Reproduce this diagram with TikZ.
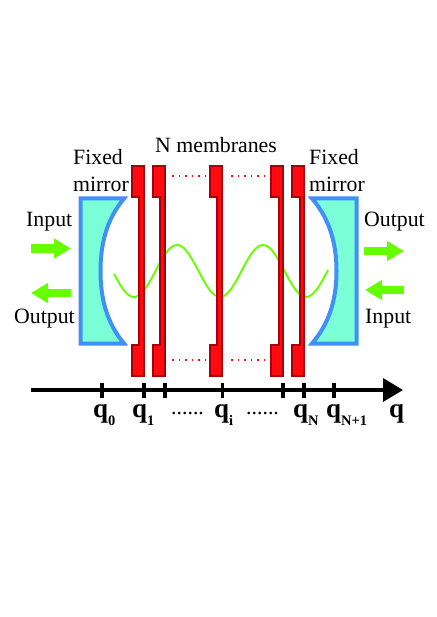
\documentclass[tikz,border=0pt]{standalone}
\usepackage{fontspec}
\setmainfont{Liberation Serif}
\usetikzlibrary{arrows.meta}
\definecolor{mirrorfill}{HTML}{7BFFD6}
\definecolor{mirrorline}{HTML}{4090F8}
\definecolor{memfill}{HTML}{FF0A10}
\definecolor{memline}{HTML}{A80008}
\definecolor{beam}{HTML}{66FF00}
\newcommand{\qlab}[1]{{\fontsize{27}{27}\selectfont\bfseries q}\raisebox{-8pt}{\fontsize{14.5}{15}\selectfont\bfseries #1}}
\tikzset{
  lab/.style={anchor=base west,inner sep=0pt,font=\fontsize{21.8}{23}\selectfont},
  qtext/.style={anchor=base west,inner sep=0pt},
  mirror/.style={draw=mirrorline,fill=mirrorfill,line width=4pt,miter limit=10},
  membrane/.style={draw=memline,fill=memfill,line width=2pt},
  reddots/.style={draw=memfill,line width=1.6pt,dash pattern=on 1.6pt off 4.9pt},
  beamarrow/.style={draw=beam,line width=8.5pt,-{Triangle[length=17pt,width=19pt]}},
  axisline/.style={draw=black,line width=3.6pt},
  tick/.style={draw=black,line width=3.6pt},
  wave/.style={draw=beam,line width=1.9pt}
}
\newcommand{\memb}[1]{% #1 left x of block
  \path[membrane] (#1,166) -- ++(12,0) -- ++(0,210) -- ++(-12,0) -- ++(0,-31.5) -- ++(7.4,0) -- ++(0,-147) -- ++(-7.4,0) -- cycle;
}
\begin{document}
\begin{tikzpicture}[x=1pt,y=-1pt]
\useasboundingbox (0,0) rectangle (436,617);
\fill[white] (0,0) rectangle (436,617);
% mirrors
\path[mirror] (80.5,198.5) -- (124,198.5) .. controls (106,220) and (100.5,245) .. (100.5,271) .. controls (100.5,297) and (106,322) .. (124,343.5) -- (80.5,343.5) -- cycle;
\path[mirror] (356.5,198.5) -- (312,198.5) .. controls (330.5,220) and (336.5,245) .. (336.5,271) .. controls (336.5,297) and (330.5,322) .. (312,343.5) -- (356.5,343.5) -- cycle;
% standing wave
\draw[wave,domain=114:328,samples=90,smooth] plot (\x,{271+26*cos(4.186*(\x-220))});
% membranes
\memb{132}
\memb{153}
\memb{210}
\memb{271.2}
\memb{292.2}
% dots
\draw[reddots] (172,176) -- (207,176);
\draw[reddots] (231,176) -- (266,176);
\draw[reddots] (172,360) -- (207,360);
\draw[reddots] (231,360) -- (266,360);
% beams
\coordinate (ia) at (31,248.5); \coordinate (ib) at (71,248.5);
\coordinate (oa) at (71,293); \coordinate (ob) at (31,293);
\coordinate (oc) at (364,251); \coordinate (od) at (404,251);
\coordinate (ic) at (404,290); \coordinate (id) at (365,290);
\draw[beamarrow] (ia) -- (ib);
\draw[beamarrow] (oa) -- (ob);
\draw[beamarrow] (oc) -- (od);
\draw[beamarrow] (ic) -- (id);
% axis
\coordinate (ax0) at (31,390); \coordinate (ax1) at (403,390);
\draw[axisline,-{Triangle[length=20pt,width=23pt]}] (ax0) -- (ax1);
\foreach \t in {102,144,165,222.5,283,304,334}
  \draw[tick] (\t,383) -- (\t,398);
% labels
\node[lab] (n) at (155,153) {N membranes};
\node[lab] (f1) at (73,165) {Fixed};
\node[lab] (m1) at (73,192) {mirror};
\node[lab] (f2) at (309,165) {Fixed};
\node[lab] (m2) at (309,192) {mirror};
\node[lab] (in1) at (26,227) {Input};
\node[lab] (out1) at (14,323) {Output};
\node[lab] (out2) at (364,227) {Output};
\node[lab] (in2) at (365,323) {Input};
\node[qtext] (q0) at (93,417) {\qlab{0}};
\node[qtext] (q1) at (132,417) {\qlab{1}};
\node[qtext] (qi) at (214,417) {\qlab{i}};
\node[qtext] (qN) at (293,417) {\qlab{N}};
\node[qtext] (qP) at (326,417) {\qlab{N+1}};
\node[qtext] (q) at (389,417) {{\fontsize{27}{27}\selectfont\bfseries q}};
\node[lab] (d1) at (171,414) {......};
\node[lab] (d2) at (246,414) {......};
\end{tikzpicture}
\end{document}
